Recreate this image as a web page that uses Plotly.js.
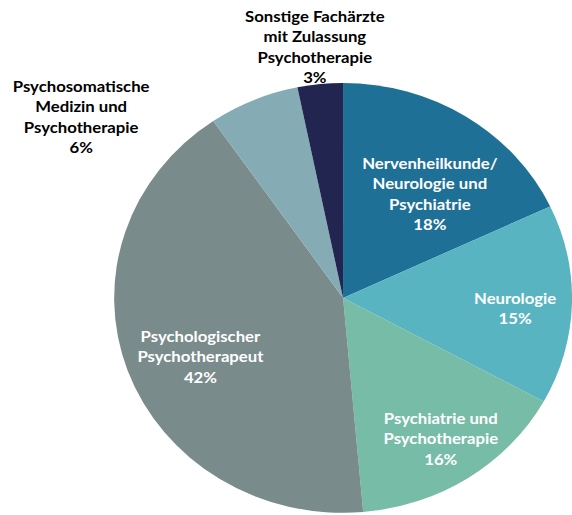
<!DOCTYPE html>
<html>
<head>
<meta charset="utf-8">
<script src="https://cdn.plot.ly/plotly-3.0.1.min.js"></script>
<style>
html,body{margin:0;padding:0;overflow:hidden;background:#fff;}
#wrap{width:572px;height:515px;overflow:hidden;}
#chart{width:537px;height:515px;transform:scaleX(1.0652);transform-origin:0 0;}
</style>
</head>
<body>
<div id="wrap"><div id="chart"></div></div>
<script>
var labels = [
  "Nervenheilkunde/<br>Neurologie und<br>Psychiatrie",
  "Neurologie",
  "Psychiatrie und<br>Psychotherapie",
  "Psychologischer<br>Psychotherapeut",
  "Psychosomatische<br>Medizin und<br>Psychotherapie",
  "Sonstige Fachärzte<br>mit Zulassung<br>Psychotherapie"
];
var values = [18, 15, 15.6, 41.8, 6.4, 3.2];
var colors = ["#1f7096", "#57b4c0", "#76bca7", "#7a8b8b", "#85abb5", "#232551"];
var labelColors = ["#ffffff", "#ffffff", "#ffffff", "#ffffff", "#000000", "#000000"];
var labelPos = [[0.752,0.625],[0.900,0.402],[0.771,0.148],[0.351,0.307],[0.142,0.773],[0.551,0.909]];

var trace = {
  type: "pie",
  labels: labels,
  values: values,
  sort: false,
  direction: "clockwise",
  rotation: 0,
  textinfo: "none",
  hoverinfo: "label+percent",
  marker: {colors: colors, line: {color: "#ffffff", width: 0}},
  domain: {x: [0.1996, 1.0], y: [0.004, 0.839]},
  showlegend: false
};

var annotations = labels.map(function(l, i){
  return {
    xref: "paper", yref: "paper",
    x: labelPos[i][0], y: labelPos[i][1],
    xanchor: "center", yanchor: "middle",
    text: "<b>" + l + "<br>" + Math.round(values[i]) + "%</b>",
    showarrow: false,
    align: "center",
    font: {family: "Lato, 'Open Sans', sans-serif", size: 15.7, color: labelColors[i]}
  };
});

Plotly.newPlot("chart", [trace], {
  width: 537, height: 515,
  margin: {l: 0, r: 0, t: 0, b: 0},
  paper_bgcolor: "#ffffff",
  annotations: annotations
}, {displayModeBar: false, staticPlot: true});
</script>
</body>
</html>
